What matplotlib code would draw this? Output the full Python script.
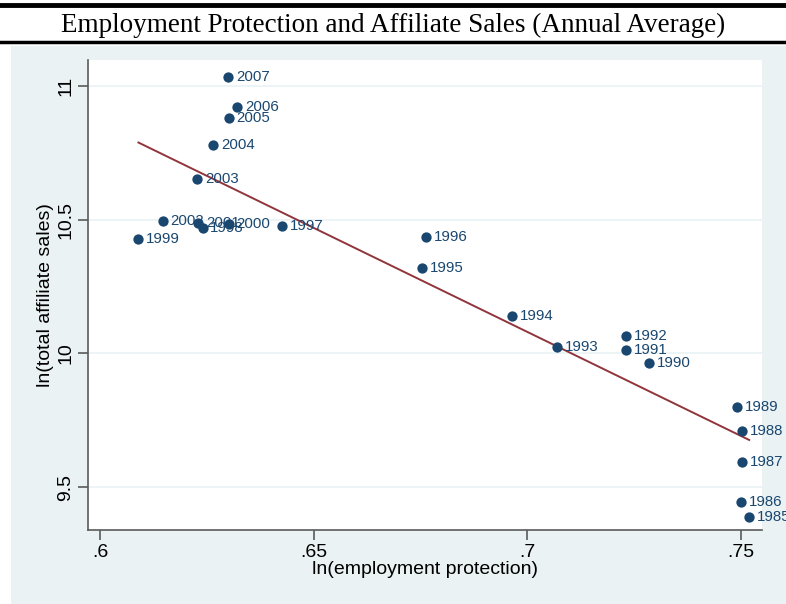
import numpy as np
import matplotlib
matplotlib.use("Agg")
import matplotlib.pyplot as plt
from matplotlib.patches import Rectangle
from matplotlib.lines import Line2D

years = [2007, 2006, 2005, 2004, 2003, 2002, 2001, 2000, 1999, 1998, 1997,
         1996, 1995, 1994, 1993, 1992, 1991, 1990, 1989, 1988, 1987, 1986, 1985]
emp_prot = [0.6300, 0.6321, 0.6302, 0.6265, 0.6228, 0.6147, 0.6230, 0.6302, 0.6090, 0.6240, 0.6427,
            0.6764, 0.6753, 0.6965, 0.7069, 0.7231, 0.7231, 0.7285, 0.7491, 0.7502, 0.7502, 0.7500, 0.7519]
aff_sales = [11.033, 10.922, 10.880, 10.779, 10.652, 10.496, 10.487, 10.484, 10.427, 10.469, 10.476,
             10.435, 10.321, 10.139, 10.024, 10.065, 10.014, 9.963, 9.800, 9.710, 9.594, 9.444, 9.388]

title = "Employment Protection and Affiliate Sales (Annual Average)"
xlabel = "ln(employment protection)"
ylabel = "ln(total affiliate sales)"
xticks = [0.60, 0.65, 0.70, 0.75]
xticklabels = [".6", ".65", ".7", ".75"]
yticks = [9.5, 10.0, 10.5, 11.0]
yticklabels = ["9.5", "10", "10.5", "11"]

navy = "#1a476f"
maroon = "#90353b"
bg = "#eaf2f3"

W, H = 786, 604
fig = plt.figure(figsize=(W / 100, H / 100), dpi=100)
fig.patch.set_facecolor("white")

# outer graph region
fig.patches.append(Rectangle((11 / W, 0), 1 - 11 / W, 1 - 46 / H, transform=fig.transFigure,
                             facecolor=bg, edgecolor="none", zorder=0))
# title rules
fig.add_artist(Line2D([0, 1], [1 - 5 / H, 1 - 5 / H], transform=fig.transFigure, color="black", lw=3.5))
fig.add_artist(Line2D([0, 1], [1 - 42 / H, 1 - 42 / H], transform=fig.transFigure, color="black", lw=2.5))
fig.text(0.5, 1 - 25.5 / H, title, ha="center", va="center", fontsize=19.5,
         family="Liberation Serif")

ax = fig.add_axes([88 / W, 1 - 530 / H, (762 - 88) / W, (530 - 60) / H])
ax.set_facecolor("white")
ax.set_zorder(1)

x = np.array(emp_prot)
y = np.array(aff_sales)
b, a = np.polyfit(x, y, 1)
xs = np.array([x.min(), x.max()])
ax.plot(xs, a + b * xs, color=maroon, lw=1.4, zorder=2)
ax.scatter(x, y, s=55, color=navy, zorder=3, linewidths=0)
for xi, yi, yr in zip(x, y, years):
    ax.annotate(str(yr), (xi, yi), xytext=(5.5, 0), textcoords="offset points",
                va="center", ha="left", fontsize=10.8, color=navy,
                family="Liberation Sans", zorder=4, annotation_clip=False)

ax.set_xlim(0.5972, 0.7549)
ax.set_ylim(9.340, 11.097)
ax.set_xticks(xticks)
ax.set_xticklabels(xticklabels)
ax.set_yticks(yticks)
ax.set_yticklabels(yticklabels, rotation=90, va="center")
ax.grid(axis="y", color=bg, lw=1.2, zorder=0)
ax.set_axisbelow(True)
for s in ["top", "right"]:
    ax.spines[s].set_visible(False)
for s in ["left", "bottom"]:
    ax.spines[s].set_color("#5a5a5a")
    ax.spines[s].set_linewidth(1.2)
ax.tick_params(axis="both", length=7, width=1.2, color="#5a5a5a", labelsize=14,
               pad=3)
for lab in ax.get_xticklabels() + ax.get_yticklabels():
    lab.set_family("Liberation Sans")
ax.set_xlabel(xlabel, fontsize=14, family="Liberation Sans", labelpad=0)
ax.set_ylabel(ylabel, fontsize=14, family="Liberation Sans", labelpad=2)

fig.savefig("out.png", dpi=100)
